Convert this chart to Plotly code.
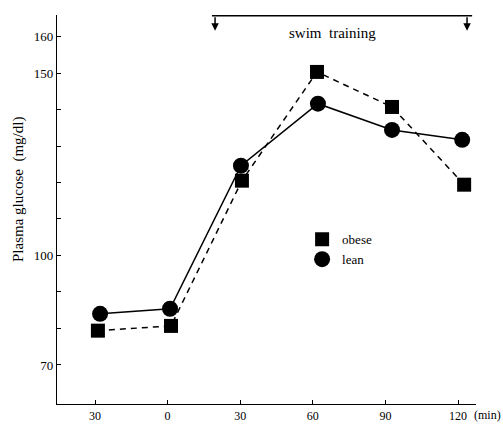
import plotly.graph_objects as go

# Data
obese_x = [-28.8, 1.4, 30.7, 61.7, 92.7, 122.5]
obese_y = [79.4, 80.7, 120.5, 150.3, 140.7, 119.4]
lean_x = [-27.9, 1.0, 30.3, 62.1, 92.7, 121.7]
lean_y = [84.0, 85.4, 124.6, 141.6, 134.4, 131.7]

x_tickvals = [-30, 0, 30, 60, 90, 120]
x_ticktext = ["30", "0", "30", "60", "90", "120"]
y_tickvals = [70, 80, 90, 100, 110, 120, 130, 140, 150, 160]
y_ticktext = ["70", "", "", "100", "", "", "", "", "150", "160"]

swim_start = 19.6
swim_end = 123.7
swim_label = "swim  training"

FONT = "Liberation Serif"

fig = go.Figure()

fig.add_trace(go.Scatter(
    x=obese_x, y=obese_y, mode="lines+markers", name="obese",
    line=dict(color="black", width=1.5, dash="6px,5px"),
    marker=dict(symbol="square", size=14, color="black"),
    showlegend=False,
))
fig.add_trace(go.Scatter(
    x=lean_x, y=lean_y, mode="lines+markers", name="lean",
    line=dict(color="black", width=1.5),
    marker=dict(symbol="circle", size=16, color="black"),
    showlegend=False,
))
# legend-only entries
fig.add_trace(go.Scatter(
    x=[None], y=[None], mode="markers", name="obese",
    marker=dict(symbol="square", size=14, color="black"),
))
fig.add_trace(go.Scatter(
    x=[None], y=[None], mode="markers", name="lean",
    marker=dict(symbol="circle", size=16, color="black"),
))

# swim training bar
fig.add_shape(type="line", xref="x", yref="y",
              x0=swim_start - 1.3, x1=swim_end + 2.1, y0=165.7, y1=165.7,
              line=dict(color="black", width=1.5))
for xs in [swim_start, swim_end]:
    fig.add_annotation(x=xs, y=161.6, ax=xs, ay=165.7, xref="x", yref="y",
                       axref="x", ayref="y", showarrow=True, arrowhead=2,
                       arrowsize=1, arrowwidth=1.5, arrowcolor="black", text="")
fig.add_annotation(x=68.3, y=161.0, xref="x", yref="y", text=swim_label,
                   showarrow=False, font=dict(family=FONT, size=15, color="black"))

# "(min)" unit after last tick
fig.add_annotation(x=125.8, y=-0.029, xref="x", yref="paper", text="(min)",
                   showarrow=False, xanchor="left", yanchor="middle",
                   font=dict(family=FONT, size=12, color="black"))

# y axis title
fig.add_annotation(x=(18 - 57) / 419, y=(404 - 190) / 389, xref="paper", yref="paper",
                   text="Plasma glucose  (mg/dl)", showarrow=False, textangle=-90,
                   xanchor="center", yanchor="middle",
                   font=dict(family=FONT, size=15, color="black"))

fig.update_layout(
    width=503, height=425,
    margin=dict(l=57, r=27, t=15, b=21, autoexpand=False),
    paper_bgcolor="white", plot_bgcolor="white",
    font=dict(family=FONT, size=13, color="black"),
    legend=dict(x=0.585, y=0.462, xanchor="left", yanchor="top",
                bgcolor="rgba(0,0,0,0)", font=dict(family=FONT, size=13, color="black"),
                itemsizing="trace", tracegroupgap=0, itemwidth=30),
    xaxis=dict(range=[-45.7, 127.4], tickvals=x_tickvals, ticktext=x_ticktext,
               showgrid=False, zeroline=False, showline=True, linecolor="black",
               linewidth=1.3, ticks="inside", ticklen=4, tickcolor="black",
               automargin=False, tickfont=dict(size=12, color="black")),
    yaxis=dict(range=[59.3, 165.9], tickvals=y_tickvals, ticktext=y_ticktext,
               showgrid=False, zeroline=False, showline=True, linecolor="black",
               linewidth=1.3, ticks="inside", ticklen=4, tickcolor="black",
               automargin=False, tickfont=dict(size=13, color="black")),
)

fig.write_html("out.html", config={"displayModeBar": False},
               post_script="document.body.style.margin='0';document.body.style.padding='0';")
